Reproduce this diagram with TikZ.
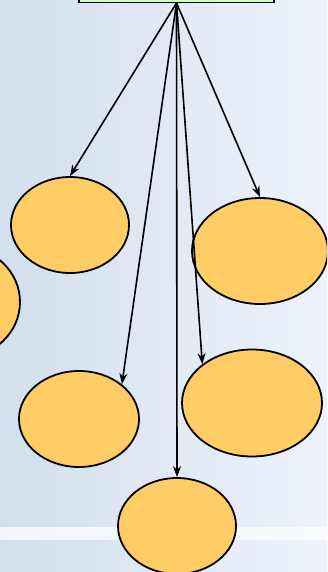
\documentclass[tikz,border=0pt]{standalone}
\usetikzlibrary{shapes,arrows.meta}
\definecolor{nodeorange}{HTML}{FFCC66}
\definecolor{rootgreen}{HTML}{CCFFCC}
\definecolor{bgleft}{HTML}{D3DFEC}
\definecolor{bgright}{HTML}{EEF3FB}

\begin{document}
\begin{tikzpicture}[x=1pt,y=-1pt,
      every node/.style={ellipse,draw,line width=1.8pt,fill=nodeorange,inner sep=0pt},
      small/.style={minimum width=118pt,minimum height=96pt},
      big/.style={minimum width=136pt,minimum height=106pt},
      link/.style={line width=1.6pt,-{Stealth[length=11pt,width=8pt]}}]
    \useasboundingbox (0,0) rectangle (327,572);
    \clip (0,0) rectangle (327,572);
    % background
    \shade[left color=bgleft,right color=bgright] (0,0) rectangle (327,572);
    \fill[white,opacity=0.7] (0,527) rectangle (327,540);
    \node[rectangle,fill=rootgreen,line width=1.3pt,minimum width=195pt,minimum height=30pt,anchor=south] (root) at (176.5,3) {};
    \node[small] (lefttop) at (70,225) {};
    \node[minimum width=120pt,minimum height=112pt] (leftcut) at (-40,302) {};
    \node[big] (righttop) at (260,251) {};
    \node[small,minimum width=120pt] (leftbot) at (79,419) {};
    \node[minimum width=140pt,minimum height=107pt] (rightbot) at (252,403) {};
    \node[small] (bottom) at (177,526) {};
    % links
    \draw[link] (root.south) -- (lefttop.north);
    \draw[link] (root.south) -- (leftbot.39);
    \draw[link] (root.south) -- (bottom.north);
    \draw[link] (root.south) -- (rightbot.142);
    \draw[link] (root.south) -- (righttop.north);
\end{tikzpicture}
\end{document}
